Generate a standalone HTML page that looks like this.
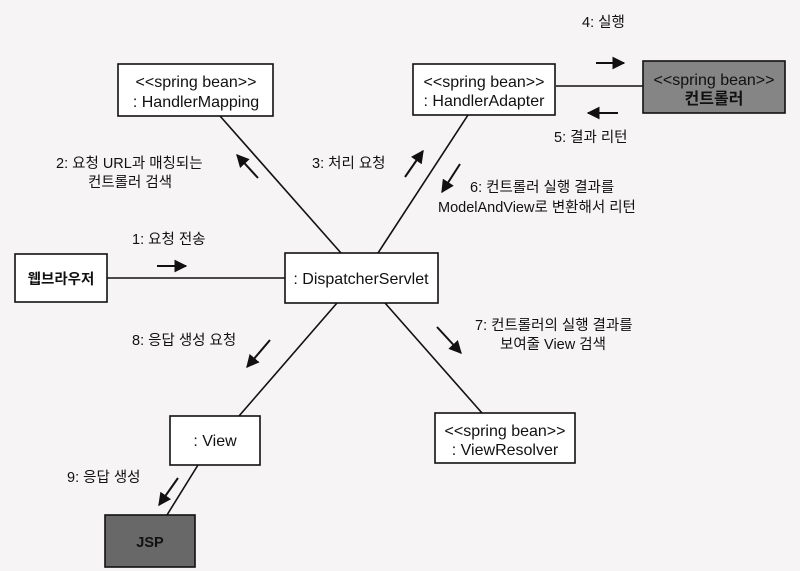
<!DOCTYPE html>
<html><head><meta charset="utf-8"><style>
html,body{margin:0;padding:0;background:#f6f4f4;}
svg{display:block;}
text{font-family:"Liberation Sans","Noto Sans CJK KR",sans-serif;font-size:14.5px;fill:#111;}
.b{font-size:16px;}
</style></head><body>
<svg width="800" height="571" viewBox="0 0 800 571" xmlns="http://www.w3.org/2000/svg">
<rect width="800" height="571" fill="#f6f4f4"/>
<defs>
<marker id="ah" viewBox="0 0 10 10" refX="9" refY="5" markerWidth="6.5" markerHeight="6.5" orient="auto" markerUnits="strokeWidth">
<path d="M0,0 L10,5 L0,10 z" fill="#111"/></marker>
</defs>
<g stroke="#111" stroke-width="1.6" fill="none">
<line x1="220" y1="116" x2="341" y2="253"/>
<line x1="468" y1="115" x2="378" y2="253"/>
<line x1="556" y1="86" x2="643" y2="86"/>
<line x1="107" y1="278" x2="285" y2="278"/>
<line x1="337" y1="303" x2="239" y2="416"/>
<line x1="385" y1="303" x2="482" y2="413"/>
<line x1="198" y1="465" x2="167" y2="515"/>
</g>
<g stroke="#111" stroke-width="2" fill="none" marker-end="url(#ah)">
<line x1="157" y1="266" x2="186" y2="266"/>
<line x1="258" y1="178" x2="237" y2="155"/>
<line x1="405" y1="177" x2="423" y2="151"/>
<line x1="596" y1="63" x2="624" y2="63"/>
<line x1="618" y1="113" x2="588" y2="113"/>
<line x1="460" y1="164" x2="442" y2="192"/>
<line x1="437" y1="327" x2="461" y2="353"/>
<line x1="270" y1="340" x2="247" y2="367"/>
<line x1="178" y1="478" x2="159" y2="505"/>
</g>
<g stroke="#111" stroke-width="1.6">
<rect x="118" y="64" width="155" height="52" fill="#fff"/>
<rect x="413" y="64" width="142" height="51" fill="#fff"/>
<rect x="643" y="61" width="142" height="52" fill="#858585"/>
<rect x="15" y="254" width="92" height="48" fill="#fff"/>
<rect x="285" y="253" width="153" height="50" fill="#fff"/>
<rect x="170" y="416" width="90" height="49" fill="#fff"/>
<rect x="435" y="413" width="140" height="50" fill="#fff"/>
<rect x="105" y="515" width="90" height="52" fill="#686868"/>
</g>
<g text-anchor="middle">
<text class="b" x="196" y="87">&lt;&lt;spring bean&gt;&gt;</text>
<text class="b" x="196" y="107">: HandlerMapping</text>
<text class="b" x="484" y="87">&lt;&lt;spring bean&gt;&gt;</text>
<text class="b" x="484" y="106">: HandlerAdapter</text>
<text class="b" x="714" y="85">&lt;&lt;spring bean&gt;&gt;</text>
<text class="b" x="714" y="104" font-weight="bold">컨트롤러</text>
<text x="61" y="284" font-weight="bold">웹브라우저</text>
<text class="b" x="361" y="284">: DispatcherServlet</text>
<text class="b" x="215" y="446">: View</text>
<text class="b" x="505" y="436">&lt;&lt;spring bean&gt;&gt;</text>
<text class="b" x="505" y="455">: ViewResolver</text>
<text x="150" y="547" font-weight="bold">JSP</text>
</g>
<text x="132" y="244">1: 요청 전송</text>
<text x="56" y="168">2: 요청 URL과 매칭되는</text>
<text x="88" y="187">컨트롤러 검색</text>
<text x="312" y="168">3: 처리 요청</text>
<text x="582" y="27">4: 실행</text>
<text x="554" y="142">5: 결과 리턴</text>
<text x="470" y="192">6: 컨트롤러 실행 결과를</text>
<text x="438" y="212">ModelAndView로 변환해서 리턴</text>
<text x="475" y="330">7: 컨트롤러의 실행 결과를</text>
<text x="500" y="349">보여줄 View 검색</text>
<text x="132" y="345">8: 응답 생성 요청</text>
<text x="67" y="482">9: 응답 생성</text>
</svg>
</body></html>
